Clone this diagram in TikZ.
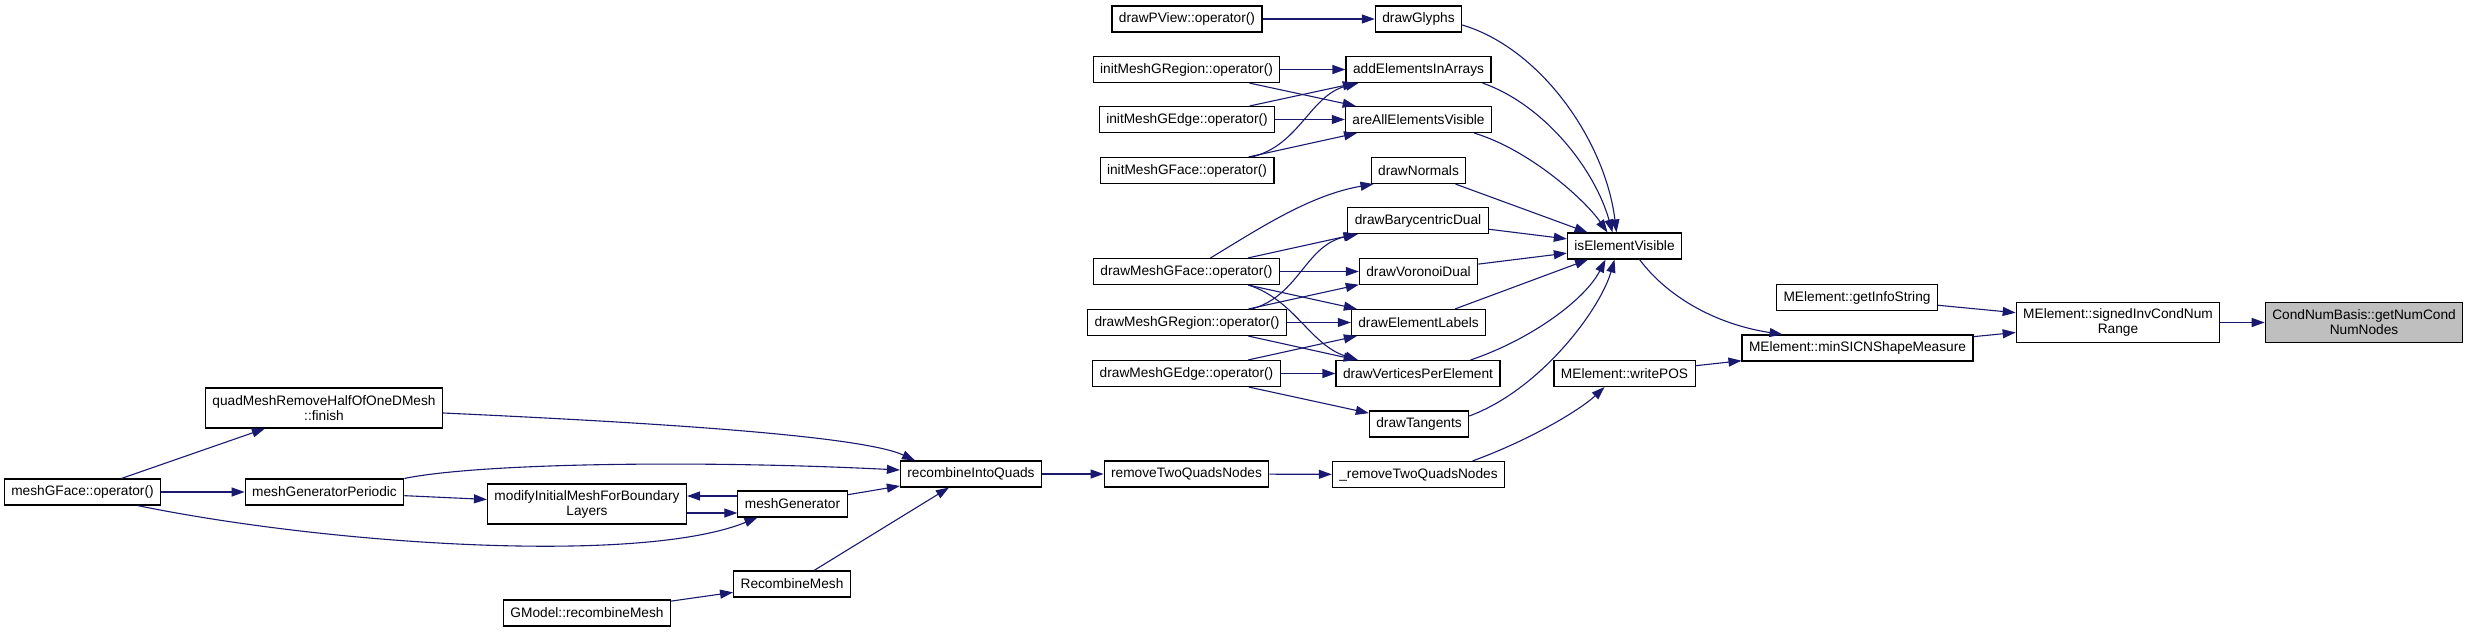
\documentclass[tikz,border=0pt]{standalone}
\usepackage{fontspec}
\setmainfont{Liberation Sans}
\usepackage{tikz}
\usetikzlibrary{arrows.meta}
\usepackage{xcolor}
\definecolor{callblue}{HTML}{191970}

\begin{document}
\begin{tikzpicture}[x=1pt, y=-1pt,
  fn/.style={draw=black, fill=white, line width=1.1pt, inner xsep=7pt, inner ysep=2pt,
    minimum height=26pt, align=center, font=\fontsize{13.7}{15}\selectfont},
  fntwo/.style={fn, minimum height=40pt},
  focus/.style={fntwo, fill=black!25},
  calls/.style={-{Triangle[length=13pt, width=9pt]}, line width=1.1pt, callblue}
]
  \path[fill=white] (0,0) rectangle (2467,632);
  \useasboundingbox (0,0) rectangle (2467,632);

  \node[fn] (dpv) at (1187,19) {drawPView::operator()};
  \node[fn] (dgl) at (1418.5,19) {drawGlyphs};
  \node[fn] (imr) at (1186.5,69.5) {initMeshGRegion::operator()};
  \node[fn] (aea) at (1418.5,69.5) {addElementsInArrays};
  \node[fn] (ime) at (1187,119.5) {initMeshGEdge::operator()};
  \node[fn] (aav) at (1418.5,119.5) {areAllElementsVisible};
  \node[fn] (imf) at (1187,170.5) {initMeshGFace::operator()};
  \node[fn] (dnr) at (1418.5,170.5) {drawNormals};
  \node[fn] (dbd) at (1418,220.5) {drawBarycentricDual};
  \node[fn] (iev) at (1624.5,246) {isElementVisible};
  \node[fn] (dmf) at (1186.5,271.5) {drawMeshGFace::operator()};
  \node[fn] (dvd) at (1418.5,271.5) {drawVoronoiDual};
  \node[fn] (dmr) at (1187,322.5) {drawMeshGRegion::operator()};
  \node[fn] (del) at (1418.5,322.5) {drawElementLabels};
  \node[fn] (dme) at (1186.5,373.5) {drawMeshGEdge::operator()};
  \node[fn] (dvp) at (1418,373.5) {drawVerticesPerElement};
  \node[fn] (dtg) at (1419,424) {drawTangents};
  \node[fn] (wpos) at (1624.5,373.5) {MElement::writePOS};
  \node[fn] (gis) at (1857,297.5) {MElement::getInfoString};
  \node[fn] (msm) at (1857.5,348) {MElement::minSICNShapeMeasure};
  \node[fntwo] (sicn) at (2118,322.5) {MElement::signedInvCondNum\\Range};
  \node[focus] (cnb) at (2364,322.5) {CondNumBasis::getNumCond\\NumNodes};
  \node[fntwo] (qmf) at (324,408) {quadMeshRemoveHalfOfOneDMesh\\::finish};
  \node[fn] (mgf) at (82.5,492) {meshGFace::operator()};
  \node[fn] (mgp) at (324.5,492) {meshGeneratorPeriodic};
  \node[fntwo] (mib) at (587,504) {modifyInitialMeshForBoundary\\Layers};
  \node[fn] (mgen) at (792.5,504) {meshGenerator};
  \node[fn] (gmr) at (587,613) {GModel::recombineMesh};
  \node[fn] (rcm) at (792,584) {RecombineMesh};
  \node[fn] (riq) at (971,474) {recombineIntoQuads};
  \node[fn] (rtq) at (1186.5,474) {removeTwoQuadsNodes};
  \node[fn] (urtq) at (1418.5,474.5) {\_removeTwoQuadsNodes};

  \draw[calls] (dpv) -- (dgl);
  \draw[calls] (imr) -- (aea);
  \draw[calls] (imr) -- (aav);
  \draw[calls] (ime) -- (aea);
  \draw[calls] (ime) -- (aav);
  \draw[calls] ([xshift=65pt]imf.north) .. controls (1300,145) and (1310,95) .. ([xshift=-60pt]aea.south);
  \draw[calls] (imf) -- (aav);
  \draw[calls] ([xshift=24pt]dmf.north) .. controls (1260,228) and (1310,195) .. ([xshift=-45pt]dnr.south);
  \draw[calls] (dmf) -- (dbd);
  \draw[calls] (dmf) -- (dvd);
  \draw[calls] (dmf) -- (del);
  \draw[calls] ([xshift=62pt]dmf.south) .. controls (1295,300) and (1310,345) .. ([xshift=-60pt]dvp.north);
  \draw[calls] ([xshift=65pt]dmr.north) .. controls (1300,295) and (1305,245) .. ([xshift=-60pt]dbd.south);
  \draw[calls] (dmr) -- (dvd);
  \draw[calls] (dmr) -- (del);
  \draw[calls] (dmr) -- (dvp);
  \draw[calls] (dme) -- (del);
  \draw[calls] (dme) -- (dvp);
  \draw[calls] (dme) -- (dtg);

  \draw[calls] ([yshift=-6pt]dgl.east) .. controls (1540,48) and (1605,140) .. ([xshift=-8pt]iev.north);
  \draw[calls] ([xshift=-9pt]aea.south east) .. controls (1545,105) and (1595,170) .. ([xshift=-12pt]iev.north);
  \draw[calls] ([xshift=-18pt]aav.south east) .. controls (1530,150) and (1585,200) .. ([xshift=-17pt]iev.north);
  \draw[calls] (dnr) -- (iev);
  \draw[calls] (dbd) -- (iev);
  \draw[calls] (dvd) -- (iev);
  \draw[calls] (del) -- (iev);
  \draw[calls] ([xshift=-30pt]dvp.north east) .. controls (1530,340) and (1585,300) .. ([xshift=-19pt]iev.south);
  \draw[calls] ([yshift=8pt]dtg.east) .. controls (1540,390) and (1600,310) .. ([xshift=-10pt]iev.south);
  \draw[calls] ([xshift=15pt]iev.south) .. controls (1670,300) and (1720,325) .. ([xshift=-75pt]msm.north);
  \draw[calls] ([xshift=54pt]urtq.north) .. controls (1530,440) and (1580,410) .. ([xshift=-20pt]wpos.south);
  \draw[calls] (wpos) -- (msm);
  \draw[calls] (gis) -- (sicn);
  \draw[calls] (msm) -- (sicn);
  \draw[calls] (sicn) -- (cnb);

  \draw[calls] (mgf) -- (qmf);
  \draw[calls] (mgf) -- (mgp);
  \draw[calls] ([xshift=55pt]mgf.south) .. controls (330,545) and (640,565) .. ([xshift=-35pt]mgen.south);
  \draw[calls] (mgp) -- (mib);
  \draw[calls] (mgp.north east) .. controls (480,463) and (700,460) .. ([yshift=4pt]riq.west);
  \draw[calls] ([yshift=-5pt]qmf.east) .. controls (640,422) and (860,435) .. ([xshift=-56pt]riq.north);
  \draw[calls] ([yshift=8pt]mgen.west) -- ([yshift=8pt]mib.east);
  \draw[calls] ([yshift=-9pt]mib.east) -- ([yshift=-9pt]mgen.west);
  \draw[calls] (mgen) -- (riq);
  \draw[calls] (gmr) -- (rcm);
  \draw[calls] (rcm) -- (riq);
  \draw[calls] (riq) -- (rtq);
  \draw[calls] (rtq) -- (urtq);
\end{tikzpicture}
\end{document}
